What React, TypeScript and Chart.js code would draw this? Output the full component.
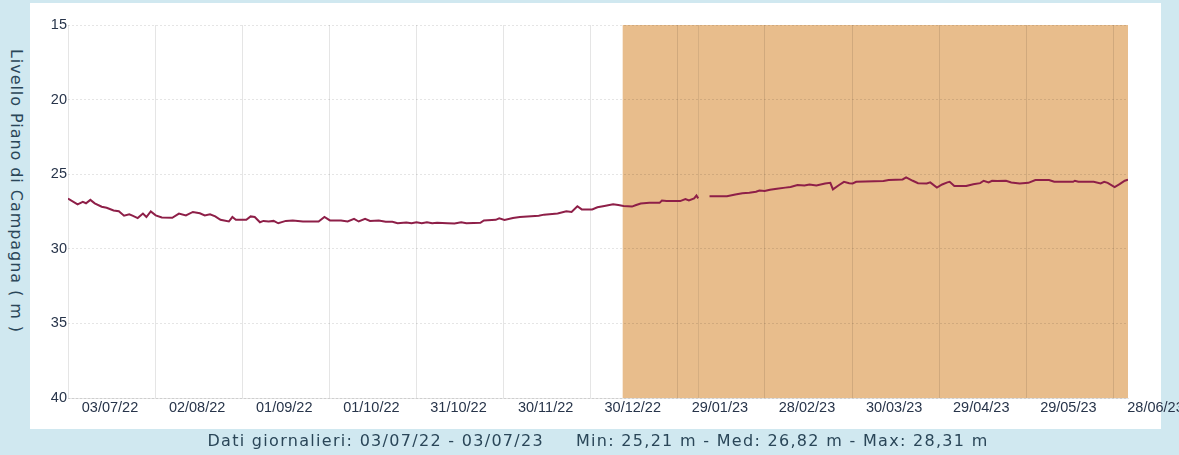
import React, { useEffect, useRef } from 'react';
import { Chart, registerables } from 'chart.js';

Chart.register(...registerables);

// Day offsets from 03/07/22 and groundwater level (m below ground)
const days = [
  0, 3.3, 5.1, 6.2, 7.7, 9.2, 11.6, 13.3, 15.7, 17.5, 19.3, 21.1, 22.2, 24.0, 25.8, 27.0, 28.5, 30.2, 32.3, 35.9,
  38.2, 40.6, 43.0, 45.4, 47.1, 48.9, 50.7, 52.5, 55.4, 56.6, 57.8, 61.4, 62.9, 64.3, 66.1, 67.3, 69.1, 70.8, 72.4, 75.0,
  77.4, 80.9, 86.3, 88.3, 90.2, 94.0, 96.3, 98.5, 100.1, 102.3, 104.0, 107.0, 109.4, 111.7, 113.5, 116.5, 118.3, 120.0, 121.8, 123.6,
  125.4, 127.1, 130.7, 133.1, 135.4, 137.2, 142.0, 143.2, 147.3, 148.5, 150.3, 153.2, 155.6, 162.1, 163.9, 168.6, 171.6, 173.4, 175.4, 176.9,
  180.5, 182.3, 184.7, 187.7, 189.5, 191.3, 194.2, 195.4, 197.2, 200.2, 203.7, 204.5, 206.1, 210.8, 212.6, 213.8, 215.6, 216.4, 217.0, 218.5,
  220.9, 226.9, 229.8, 232.2, 234.6, 236.9, 238.1, 239.9, 241.7, 244.1, 247.0, 248.8, 251.2, 253.6, 255.3, 257.7, 260.7, 262.5, 263.4, 265.4,
  267.2, 269.0, 270.2, 271.4, 280.8, 282.6, 287.4, 288.6, 290.9, 292.7, 295.7, 296.9, 299.2, 301.0, 302.8, 303.6, 305.2, 309.3, 311.7, 314.1,
  315.3, 317.0, 318.2, 320.0, 323.0, 324.8, 327.7, 330.7, 333.1, 337.8, 339.6, 346.1, 346.7, 347.9, 353.2, 355.6, 356.8, 358.0, 360.4, 362.1,
  363.9, 365
];

const levels = [
  26.63, 27.02, 26.86, 26.95, 26.72, 26.95, 27.18, 27.25, 27.43, 27.48, 27.78, 27.69, 27.78, 27.94, 27.64, 27.87, 27.50, 27.76, 27.90, 27.92,
  27.64, 27.76, 27.53, 27.62, 27.76, 27.69, 27.83, 28.06, 28.17, 27.87, 28.06, 28.06, 27.83, 27.87, 28.22, 28.13, 28.17, 28.13, 28.29, 28.13,
  28.10, 28.17, 28.17, 27.87, 28.10, 28.10, 28.17, 27.99, 28.17, 27.99, 28.13, 28.10, 28.19, 28.19, 28.29, 28.24, 28.29, 28.22, 28.29, 28.22,
  28.29, 28.26, 28.29, 28.31, 28.22, 28.29, 28.26, 28.10, 28.06, 27.96, 28.06, 27.94, 27.87, 27.78, 27.71, 27.64, 27.48, 27.53, 27.15, 27.36,
  27.36, 27.22, 27.13, 27.01, 27.06, 27.13, 27.17, 27.08, 26.96, 26.92, 26.92, 26.76, 26.80, 26.80, 26.66, 26.76, 26.62, 26.43, 26.62, null,
  26.48, 26.48, 26.36, 26.27, 26.25, 26.18, 26.09, 26.13, 26.04, 25.97, 25.90, 25.86, 25.72, 25.76, 25.69, 25.76, 25.62, 25.58, 26.02, 25.74,
  25.51, 25.60, 25.62, 25.51, 25.46, 25.39, 25.35, 25.21, 25.44, 25.60, 25.62, 25.55, 25.90, 25.69, 25.55, 25.51, 25.79, 25.79, 25.67, 25.60,
  25.44, 25.55, 25.44, 25.46, 25.44, 25.55, 25.62, 25.58, 25.39, 25.39, 25.51, 25.51, 25.44, 25.51, 25.51, 25.62, 25.51, 25.58, 25.86, 25.67,
  25.44, 25.36
];

const tickDays = [0, 30, 60, 90, 120, 150, 180, 210, 240, 270, 300, 330, 360];
const tickLabels = [
  '03/07/22', '02/08/22', '01/09/22', '01/10/22', '31/10/22', '30/11/22', '30/12/22',
  '29/01/23', '28/02/23', '30/03/23', '29/04/23', '29/05/23', '28/06/23'
];

const shadeStartDay = 191;
const shadeEndDay = 365;
const markerDay = 217;

const yTitle = 'Livello Piano di Campagna ( m )';
const caption = 'Dati giornalieri: 03/07/22 - 03/07/23     Min: 25,21 m - Med: 26,82 m - Max: 28,31 m';

const W = 1179;
const H = 455;

const bandPlugin = {
  id: 'band',
  beforeDraw(chart: any) {
    const { ctx, chartArea, scales } = chart;
    const xs = scales.x;
    const x0 = xs.getPixelForValue(shadeStartDay);
    const x1 = xs.getPixelForValue(shadeEndDay);
    ctx.save();
    ctx.fillStyle = '#e8bd8c';
    ctx.fillRect(x0, chartArea.top, x1 - x0, chartArea.bottom - chartArea.top);
    const xm = Math.round(xs.getPixelForValue(markerDay)) + 0.5;
    ctx.strokeStyle = 'rgba(0,0,0,0.08)';
    ctx.lineWidth = 1;
    ctx.beginPath();
    ctx.moveTo(xm, chartArea.top);
    ctx.lineTo(xm, chartArea.bottom);
    ctx.stroke();
    ctx.restore();
  },
};

export default function App() {
  const ref = useRef<HTMLCanvasElement | null>(null);

  useEffect(() => {
    if (!ref.current) return;
    const chart = new Chart(ref.current, {
      type: 'line',
      data: {
        datasets: [
          {
            data: days.map((d, i) => ({ x: d, y: levels[i] as any })),
            borderColor: '#8e1f48',
            borderWidth: 2,
            pointRadius: 0,
            tension: 0,
            fill: false,
            spanGaps: false,
          },
        ],
      },
      options: {
        responsive: false,
        animation: false,
        devicePixelRatio: 1,
        layout: { padding: { left: 0, right: W - 1128, top: 25, bottom: 0 } },
        plugins: { legend: { display: false }, tooltip: { enabled: false } },
        scales: {
          x: {
            type: 'linear',
            min: 0,
            max: 365,
            afterBuildTicks: (scale: any) => {
              scale.ticks = tickDays.map((v) => ({ value: v }));
            },
            afterFit: (scale: any) => {
              scale.height = H - 398;
            },
            grid: { color: 'rgba(0,0,0,0.1)', drawTicks: false },
            border: { color: 'rgba(0,0,0,0.1)' },
            ticks: {
              autoSkip: false,
              maxRotation: 0,
              padding: 1,
              labelOffset: 42,
              color: '#27344a',
              font: { family: 'Liberation Sans', size: 14.5 },
              callback: (_v: any, i: number) => tickLabels[i],
            },
          },
          y: {
            min: 15,
            max: 40,
            reverse: true,
            afterFit: (scale: any) => {
              scale.width = 68;
            },
            grid: { color: 'rgba(0,0,0,0.1)', drawTicks: false },
            border: { display: false, dash: [2, 2] },
            ticks: {
              stepSize: 5,
              padding: 1,
              color: '#27344a',
              font: { family: 'Liberation Sans', size: 14.5 },
            },
          },
        },
      },
      plugins: [bandPlugin],
    });
    return () => chart.destroy();
  }, []);

  return (
    <div
      style={{
        position: 'fixed',
        left: 0,
        top: 0,
        width: W,
        height: H,
        background: '#d0e8f0',
        overflow: 'hidden',
      }}
    >
      <div
        style={{
          position: 'absolute',
          left: 30,
          top: 3,
          width: 1131,
          height: 426,
          background: '#ffffff',
        }}
      />
      <div
        style={{
          position: 'absolute',
          left: 15.5,
          top: 190.5,
          transform: 'translate(-50%, -50%) rotate(90deg)',
          whiteSpace: 'nowrap',
          fontFamily: 'DejaVu Sans',
          fontSize: 16,
          letterSpacing: 0.95,
          lineHeight: '18px',
          color: '#2a4658',
        }}
      >
        {yTitle}
      </div>
      <canvas
        ref={ref}
        width={W}
        height={H}
        style={{ position: 'absolute', left: 0, top: 0, width: W, height: H }}
      />
      <div
        style={{
          position: 'absolute',
          left: 0,
          width: 1196,
          top: 433,
          textAlign: 'center',
          whiteSpace: 'pre',
          fontFamily: 'DejaVu Sans',
          fontSize: 16,
          lineHeight: '16px',
          letterSpacing: 1.3,
          color: '#2a4658',
        }}
      >
        {caption}
      </div>
    </div>
  );
}
